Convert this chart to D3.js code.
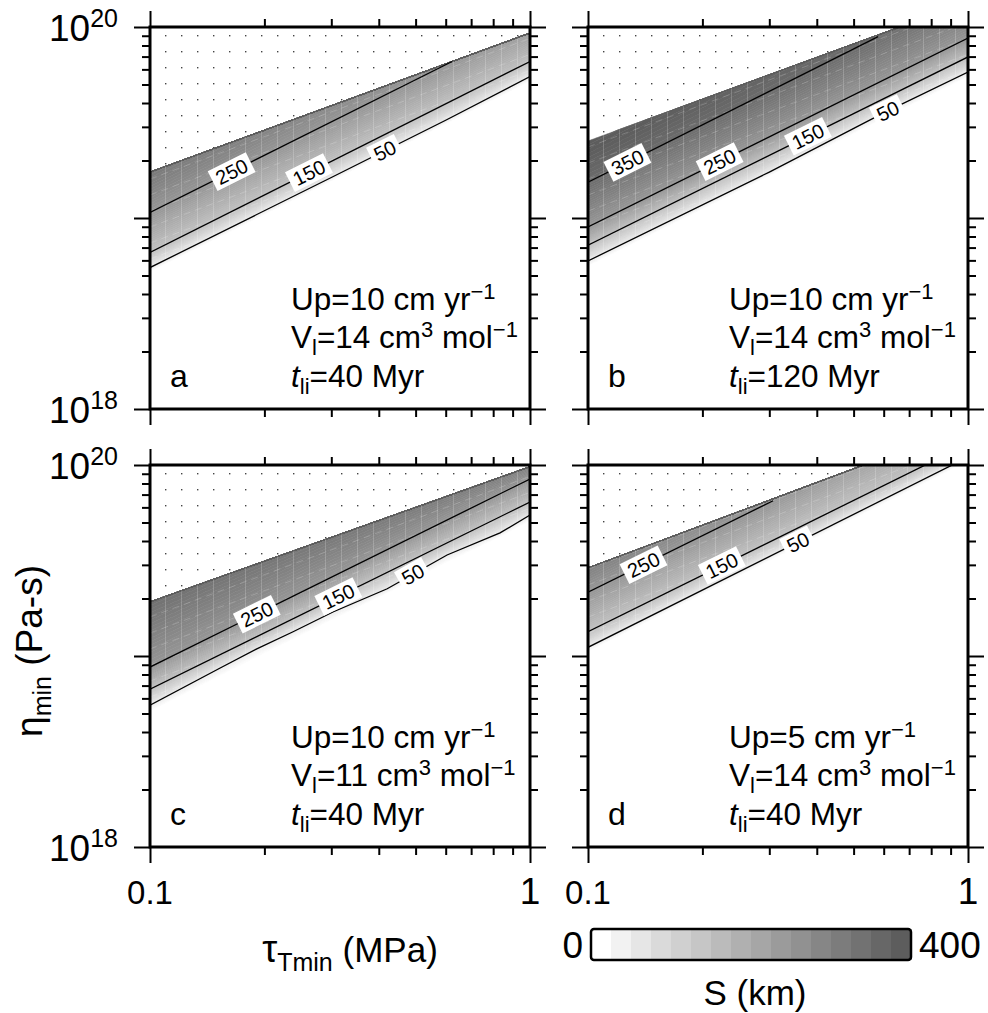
<!DOCTYPE html>
<html>
<head>
<meta charset="utf-8">
<script src="https://cdn.jsdelivr.net/npm/d3@7"></script>
<style>
  body { margin: 0; background: #fff; }
  text { font-family: "Liberation Sans", Arial, Helvetica, sans-serif; fill: #000; }
</style>
</head>
<body>
<svg id="chart" width="988" height="1013"></svg>
<script>
// ---- values ----
// panel parameters
const panelIds = ["a", "b", "c", "d"];
const upRate = [10, 10, 10, 5];      // cm/yr
const molarVol = [14, 14, 11, 14];   // cm3/mol
const tLith = [40, 120, 40, 40];     // Myr

// colour bar: S (km), 16 bins of 25 km
const sDomain = [0, 400];
const binGrays = ["#ffffff", "#f2f2f2", "#e6e6e6", "#dadada", "#d0d0d0", "#c6c6c6", "#bbbbbb", "#b0b0b0",
                  "#a6a6a6", "#9b9b9b", "#919191", "#868686", "#7c7c7c", "#727272", "#676767", "#5d5d5d"];

// axis ticks
const xMajor = [0.1, 1];
const xMinor = [0.2, 0.3, 0.4, 0.5, 0.6, 0.7, 0.8, 0.9];
const yMajor = [1e18, 1e19, 1e20];
const yMinor = [2e18, 3e18, 4e18, 5e18, 6e18, 7e18, 8e18, 9e18, 2e19, 3e19, 4e19, 5e19, 6e19, 7e19, 8e19, 9e19];

// contour lines: [tau_Tmin (MPa), eta_min (Pa s)]
// panel a
const aEdge = [[0.1, 1.74e19], [1, 9.3e19]];
const aEdgeS = [[0.1, 320], [0.624, 250], [1, 225]];
const aS0 = [[0.1, 5.15e18], [1, 5.1e19]];
const aS50 = [[0.1, 5.5e18], [0.3, 1.63e19], [0.6, 3.25e19], [1, 5.5e19]];
const aS150 = [[0.1, 6.6e18], [1, 6.6e19]];
const aS250 = [[0.1, 1.07e19], [0.624, 6.6e19]];
const aLabels = [[250, 0.164], [150, 0.262], [50, 0.415]];
// panel b
const bEdge = [[0.1, 2.53e19], [1, 1.35e20]];
const bEdgeS = [[0.1, 400], [0.58, 350], [1, 320]];
const bS0 = [[0.1, 5.5e18], [1, 5.4e19]];
const bS50 = [[0.1, 5.96e18], [0.3, 1.74e19], [0.6, 3.55e19], [1, 5.81e19]];
const bS150 = [[0.1, 7.2e18], [1, 6.97e19]];
const bS250 = [[0.1, 8.97e18], [1, 8.75e19]];
const bS350 = [[0.1, 1.54e19], [0.58, 8.9e19]];
const bLabels = [[350, 0.127], [250, 0.222], [150, 0.379], [50, 0.615]];
// panel c
const cEdge = [[0.1, 1.92e19], [1, 9.8e19]];
const cEdgeS = [[0.1, 340], [1, 300]];
const cS0 = [[0.1, 5.0e18], [1, 4.97e19]];
const cS50 = [[0.1, 5.53e18], [0.153, 8.65e18], [0.191, 1.09e19], [0.238, 1.34e19], [0.303, 1.70e19],
              [0.421, 2.25e19], [0.605, 3.38e19], [0.834, 4.41e19], [1, 5.47e19]];
const cS150 = [[0.1, 6.7e18], [1, 6.4e19]];
const cS250 = [[0.1, 8.75e18], [1, 8.45e19]];
const cLabels = [[250, 0.191], [150, 0.313], [50, 0.492]];
// panel d
const dEdge = [[0.1, 2.89e19], [1, 1.6e20]];
const dEdgeS = [[0.1, 300], [0.307, 250], [1, 180]];
const dS0 = [[0.1, 1.04e19], [1, 1.03e20]];
const dS50 = [[0.1, 1.11e19], [1, 1.1e20]];
const dS150 = [[0.1, 1.34e19], [1, 1.29e20]];
const dS250 = [[0.1, 2.16e19], [0.307, 6.5e19]];
const dLabels = [[250, 0.14], [150, 0.225], [50, 0.357]];

const panels = [
  { edge: aEdge, edgeS: aEdgeS, levels: [[0, aS0], [50, aS50], [150, aS150], [250, aS250]], labels: aLabels },
  { edge: bEdge, edgeS: bEdgeS, levels: [[0, bS0], [50, bS50], [150, bS150], [250, bS250], [350, bS350]], labels: bLabels },
  { edge: cEdge, edgeS: cEdgeS, levels: [[0, cS0], [50, cS50], [150, cS150], [250, cS250]], labels: cLabels },
  { edge: dEdge, edgeS: dEdgeS, levels: [[0, dS0], [50, dS50], [150, dS150], [250, dS250]], labels: dLabels }
];

// ---- layout ----
const W = 380, H = 382;
const colX = [150, 588], rowY = [27, 465];

const svg = d3.select("#chart");
const defs = svg.append("defs");

const binCenters = binGrays.map((g, i) => sDomain[0] + 12.5 + 25 * i);
const shade = d3.scaleLinear().domain(binCenters).range(binGrays).clamp(true);

// piecewise-linear interpolator in log-log space
const logInterp = pts => d3.scaleLinear()
  .domain(pts.map(d => Math.log10(d[0])))
  .range(pts.map(d => Math.log10(d[1])));

const sampleLt = d3.range(0, 241).map(k => -1 + k / 240);

panels.forEach((p, i) => {
  const id = panelIds[i];
  const x0 = colX[i % 2], y0 = rowY[Math.floor(i / 2)];
  const x = d3.scaleLog().domain([0.1, 1]).range([x0, x0 + W]);
  const y = d3.scaleLog().domain([1e18, 1e20]).range([y0 + H, y0]);
  const g = svg.append("g").attr("class", "panel-" + id);

  defs.append("clipPath").attr("id", "clip-" + id)
    .append("rect").attr("x", x0).attr("y", y0).attr("width", W).attr("height", H);

  const edgeEta = logInterp(p.edge);
  const edgeS = d3.scaleLinear().domain(p.edgeS.map(d => Math.log10(d[0]))).range(p.edgeS.map(d => d[1]));
  const lines = p.levels.map(([s, pts]) => ({
    s, pts, f: logInterp(pts),
    lo: Math.log10(pts[0][0]) - 1e-6, hi: Math.log10(pts[pts.length - 1][0]) + 1e-6
  }));

  // per-column S -> log(eta) mapping
  const cols = sampleLt.map(lt => {
    const sE = edgeS(lt);
    const knots = lines.filter(l => l.s < sE - 0.5 && lt >= l.lo && lt <= l.hi).map(l => [l.s, l.f(lt)]);
    knots.push([sE, edgeEta(lt)]);
    const f = d3.scaleLinear().domain(knots.map(k => k[0])).range(knots.map(k => k[1])).clamp(true);
    return { lt, sE, f };
  });

  const body = g.append("g").attr("clip-path", `url(#clip-${id})`);

  // dotted "no solution" area above the band
  defs.append("pattern").attr("id", "dots-" + id)
    .attr("patternUnits", "userSpaceOnUse")
    .attr("x", x0 + 15).attr("y", y0 + 8).attr("width", 16).attr("height", 16)
    .append("rect").attr("x", 0).attr("y", 0).attr("width", 1.4).attr("height", 1.4).attr("fill", "#444");
  const above = cols.map(c => [x(10 ** c.lt), y(10 ** c.f(c.sE))]);
  above.push([x0 + W, y0 - 10], [x0, y0 - 10]);
  body.append("path").attr("d", "M" + above.join("L") + "Z").attr("fill", `url(#dots-${id})`);

  // shaded bands, 5 km steps
  for (let s = 0; s < sDomain[1]; s += 5) {
    if (s + 2.5 < 12.5) continue;
    const band = d3.area()
      .x(c => x(10 ** c.lt))
      .y0(c => y(10 ** c.f(Math.min(s, c.sE))))
      .y1(c => y(10 ** c.f(Math.min(s + 5, c.sE))));
    const col = shade(s + 2.5);
    body.append("path").attr("d", band(cols))
      .attr("fill", col).attr("stroke", col).attr("stroke-width", 0.6);
  }

  // faint mesh texture inside the band
  const bandArea = d3.area()
    .x(c => x(10 ** c.lt))
    .y0(c => y(10 ** c.f(0)))
    .y1(c => y(10 ** c.f(c.sE)));
  defs.append("clipPath").attr("id", "band-" + id).append("path").attr("d", bandArea(cols));
  const mesh = body.append("g").attr("clip-path", `url(#band-${id})`)
    .attr("stroke", "#fff").attr("stroke-opacity", 0.2).attr("stroke-width", 1);
  d3.range(x0 + 15.5, x0 + W, 16).forEach(mx => {
    mesh.append("line").attr("x1", mx).attr("x2", mx).attr("y1", y0).attr("y2", y0 + H);
  });
  d3.range(y0 - 200, y0 + H + 200, 16).forEach(my => {
    mesh.append("line").attr("x1", x0).attr("x2", x0 + W).attr("y1", my).attr("y2", my - 0.37 * W)
      .attr("stroke-dasharray", "7,5");
  });

  // contour lines
  const contour = d3.line().x(d => x(d[0])).y(d => y(d[1]));
  lines.filter(l => l.s > 0).forEach(l => {
    body.append("path").attr("d", contour(l.pts))
      .attr("fill", "none").attr("stroke", "#000").attr("stroke-width", 1.3);
  });

  // contour labels
  p.labels.forEach(([s, tau]) => {
    const l = lines.find(d => d.s === s);
    const lt = Math.log10(tau);
    const px = x(tau), py = y(10 ** l.f(lt));
    const dx = x(10 ** (lt + 0.01)) - x(10 ** (lt - 0.01));
    const dy = y(10 ** l.f(lt + 0.01)) - y(10 ** l.f(lt - 0.01));
    const ang = Math.atan2(dy, dx) * 180 / Math.PI;
    const w = String(s).length * 11.5 + 8;
    const lab = body.append("g").attr("transform", `translate(${px},${py}) rotate(${ang})`);
    lab.append("rect").attr("x", -w / 2).attr("y", -11).attr("width", w).attr("height", 22).attr("fill", "#fff");
    lab.append("text").attr("text-anchor", "middle").attr("dy", "0.36em")
      .style("font-size", "20px").text(s);
  });

  // ticks on all four sides, pointing outward
  const axes = [
    [d3.axisTop(x), `translate(0,${y0})`, xMajor, xMinor],
    [d3.axisBottom(x), `translate(0,${y0 + H})`, xMajor, xMinor],
    [d3.axisLeft(y), `translate(${x0},0)`, yMajor, yMinor],
    [d3.axisRight(y), `translate(${x0 + W},0)`, yMajor, yMinor]
  ];
  axes.forEach(([ax, tr, maj, min]) => {
    [[maj, 16], [min, 8]].forEach(([vals, size]) => {
      const a = g.append("g").attr("transform", tr)
        .call(ax.tickValues(vals).tickSize(size).tickFormat(""));
      a.select(".domain").remove();
      a.selectAll("line").attr("stroke", "#000").attr("stroke-width", 2);
    });
  });

  g.append("rect").attr("x", x0).attr("y", y0).attr("width", W).attr("height", H)
    .attr("fill", "none").attr("stroke", "#000").attr("stroke-width", 3);

  // y tick labels on left column
  if (i % 2 === 0) {
    [1e20, 1e18].forEach(v => {
      const t = g.append("text").attr("x", x0 - 32).attr("y", y(v) + 14)
        .attr("text-anchor", "end").style("font-size", "37px");
      t.append("tspan").text("10");
      t.append("tspan").attr("dy", -14).style("font-size", "25px").text(Math.log10(v));
    });
  }
  // x tick labels on bottom row
  if (i >= 2) {
    g.append("text").attr("x", x(0.1)).attr("y", y0 + H + 57)
      .attr("text-anchor", "middle").style("font-size", "33px").text("0.1");
    g.append("text").attr("x", x(1)).attr("y", y0 + H + 57)
      .attr("text-anchor", "middle").style("font-size", "37px").text("1");
  }

  // panel annotation
  const tx = x0 + 141, by = y0 + H;
  const l1 = g.append("text").attr("x", tx).attr("y", by - 99).style("font-size", "31.5px");
  l1.append("tspan").text(`Up=${upRate[i]} cm yr`);
  l1.append("tspan").attr("dy", -11).style("font-size", "22px").text("\u22121");

  const l2 = g.append("text").attr("x", tx).attr("y", by - 61).style("font-size", "31.5px");
  l2.append("tspan").text("V");
  l2.append("tspan").attr("dy", 7).style("font-size", "22px").text("l");
  l2.append("tspan").attr("dy", -7).text(`=${molarVol[i]} cm`);
  l2.append("tspan").attr("dy", -11).style("font-size", "22px").text("3");
  l2.append("tspan").attr("dy", 11).text(" mol");
  l2.append("tspan").attr("dy", -11).style("font-size", "22px").text("\u22121");

  const l3 = g.append("text").attr("x", tx).attr("y", by - 22).style("font-size", "31.5px");
  l3.append("tspan").style("font-style", "italic").text("t");
  l3.append("tspan").attr("dy", 7).style("font-size", "22px").text("li");
  l3.append("tspan").attr("dy", -7).text(`=${tLith[i]} Myr`);

  g.append("text").attr("x", x0 + 20).attr("y", by - 22).style("font-size", "32px").text(id);
});

// axis titles
const xt = svg.append("text").attr("x", 350).attr("y", 962).attr("text-anchor", "middle").style("font-size", "35px");
xt.append("tspan").style("font-size", "38px").text("\u03c4");
xt.append("tspan").attr("dy", 9).style("font-size", "25px").text("Tmin");
xt.append("tspan").attr("dy", -9).text(" (MPa)");

const yt = svg.append("text").attr("transform", "translate(42,565) rotate(-90)")
  .attr("text-anchor", "end").style("font-size", "37px");
yt.append("tspan").text("\u03b7");
yt.append("tspan").attr("dy", 9).style("font-size", "25px").text("min");
yt.append("tspan").attr("dy", -9).text(" (Pa-s)");

// colour bar
const cb = svg.append("g");
const cbX = d3.scaleLinear().domain(sDomain).range([591, 911]);
const cbY = 929, cbH = 31;
cb.selectAll("rect.bin").data(binGrays).join("rect").attr("class", "bin")
  .attr("x", (d, i) => cbX(25 * i)).attr("y", cbY)
  .attr("width", cbX(25) - cbX(0) + 0.5).attr("height", cbH).attr("fill", d => d);
cb.append("rect").attr("x", cbX(0)).attr("y", cbY).attr("width", cbX(400) - cbX(0)).attr("height", cbH)
  .attr("rx", 3).attr("fill", "none").attr("stroke", "#000").attr("stroke-width", 2.5);
cb.append("text").attr("x", cbX(0) - 8).attr("y", 958).attr("text-anchor", "end").style("font-size", "37px").text(sDomain[0]);
cb.append("text").attr("x", cbX(400) + 8).attr("y", 958).attr("text-anchor", "start").style("font-size", "37px").text(sDomain[1]);
cb.append("text").attr("x", 755).attr("y", 1005).attr("text-anchor", "middle").style("font-size", "35px").text("S (km)");
</script>
</body>
</html>
